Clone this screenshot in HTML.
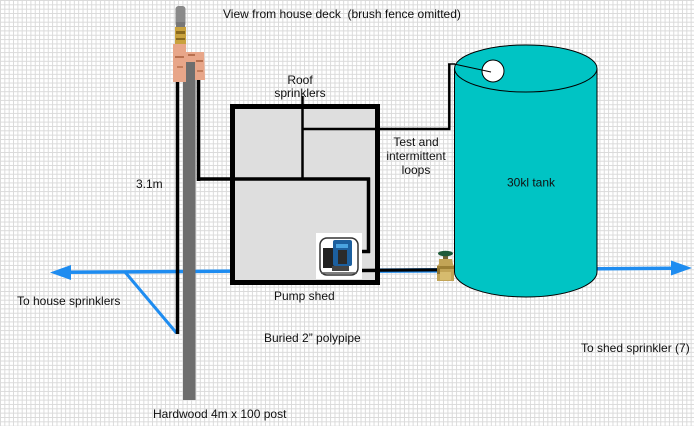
<!DOCTYPE html>
<html>
<head>
<meta charset="utf-8">
<style>
  html,body{margin:0;padding:0;}
  body{width:694px;height:426px;overflow:hidden;background-color:#fff;
    background-image:linear-gradient(#dadada 1px, transparent 1px),linear-gradient(90deg,#dadada 1px, transparent 1px);
    background-size:4.35px 4.35px;}
  svg{position:absolute;left:0;top:0;}
  text{font-family:"Liberation Sans",Arial,sans-serif;font-size:12px;fill:#111;}
</style>
</head>
<body>
<svg width="694" height="426" viewBox="0 0 694 426" xmlns="http://www.w3.org/2000/svg">
  <!-- blue main line -->
  <line x1="66" y1="272.3" x2="676" y2="268.2" stroke="#1e8cf0" stroke-width="3.5"/>
  <polygon points="50,272.5 71,265 71,280" fill="#1e8cf0"/>
  <polygon points="692,268 671,260.5 671,275.5" fill="#1e8cf0"/>
  <!-- diagonal branch -->
  <line x1="125" y1="272" x2="176.5" y2="333" stroke="#1e8cf0" stroke-width="3"/>

  <!-- post -->
  <rect x="183" y="60" width="12.5" height="340" fill="#6e6e6e"/>
  <!-- pipes along post -->
  <line x1="177.5" y1="80" x2="177.5" y2="334" stroke="#000" stroke-width="3.5"/>
  <line x1="198.5" y1="76" x2="198.5" y2="181" stroke="#000" stroke-width="3.5"/>

  <!-- top fittings -->
  <rect x="175.5" y="6" width="10" height="21" rx="3" fill="#8a8a8a"/>
  <rect x="176" y="22" width="9" height="5" fill="#777"/>
  <path d="M175,27 L186,27 L186,45 L175,45 Z" fill="#c9a23e"/>
  <rect x="176" y="31" width="9" height="3" fill="#8a6a1e"/>
  <rect x="176" y="38" width="9" height="2" fill="#8a6a1e"/>
  <path d="M173,44 L186,44 L186,52 L204,52 L205,80 L195,80 L195,62 L186,62 L186,82 L173,82 Z" fill="#e8a689"/>
  <rect x="175" y="56" width="9" height="2" fill="#b8704f"/>
  <rect x="177" y="66" width="6" height="2" fill="#c57e5c"/>
  <rect x="196" y="60" width="7" height="2" fill="#b8704f"/>
  <rect x="197" y="70" width="6" height="2" fill="#c57e5c"/>
  <rect x="188" y="54" width="7" height="2" fill="#b8704f"/>

  <!-- shed -->
  <rect x="232.5" y="106.5" width="145" height="176" fill="#dedede" stroke="#000" stroke-width="5"/>
  <!-- pipes inside shed -->
  <line x1="198" y1="179" x2="370" y2="179" stroke="#000" stroke-width="3.5"/>
  <line x1="368.5" y1="177.5" x2="368.5" y2="253" stroke="#000" stroke-width="3.5"/>
  <line x1="357" y1="251.5" x2="370" y2="251.5" stroke="#000" stroke-width="3.5"/>
  <line x1="302.5" y1="96" x2="302.5" y2="180" stroke="#000" stroke-width="2.5"/>
  <line x1="302" y1="129" x2="450.5" y2="129" stroke="#000" stroke-width="2.5"/>
  <line x1="449.3" y1="130" x2="449.3" y2="64" stroke="#000" stroke-width="2.5"/>
  <line x1="448" y1="64" x2="455" y2="64" stroke="#000" stroke-width="1.5"/>

  <!-- pump to valve -->
  <line x1="360" y1="270.5" x2="442" y2="270" stroke="#000" stroke-width="3.5"/>
  <line x1="380" y1="272.3" x2="440" y2="272" stroke="#1e8cf0" stroke-width="1.2"/>

  <!-- pump image -->
  <rect x="316" y="233" width="46" height="46" fill="#fff"/>
  <rect x="320" y="238" width="38" height="37" rx="7" fill="none" stroke="#333" stroke-width="1.5"/>
  <rect x="323" y="248" width="13" height="20" fill="#222"/>
  <rect x="333" y="240" width="19" height="26" rx="2" fill="#1c5f9e"/>
  <rect x="336" y="244" width="12" height="4" fill="#4aa3e0"/>
  <rect x="338" y="250" width="9" height="14" fill="#2b2b2b"/>
  <rect x="332" y="266" width="17" height="5" fill="#444"/>
  <line x1="321" y1="273" x2="357" y2="273" stroke="#555" stroke-width="1.5"/>

  <!-- tank -->
  <path d="M454.5,68.5 L454.5,272 A71.25,25 0 0 0 597,272 L597,68.5 Z" fill="#00c4c4" stroke="#000" stroke-width="1"/>
  <ellipse cx="525.75" cy="68.5" rx="71.25" ry="23.5" fill="#00c4c4" stroke="#000" stroke-width="1"/>
  <circle cx="493" cy="71" r="11" fill="#fff" stroke="#000" stroke-width="1"/>
  <line x1="454" y1="64" x2="491" y2="72" stroke="#000" stroke-width="1"/>

  <!-- valve -->
  <rect x="443" y="254" width="5" height="6" fill="#6f6234"/>
  <ellipse cx="445.5" cy="253.5" rx="7.5" ry="2.8" fill="#1f5a3a"/>
  <path d="M439,259 L452,259 L453,264 L454,266 L454,281 L437,281 L437,266 L439,264 Z" fill="#c2a456"/>
  <rect x="437" y="266" width="17" height="3" fill="#9c7f34"/>
  <rect x="440" y="272" width="11" height="8" fill="#d6bb6e"/>
  <rect x="437" y="268" width="3" height="6" fill="#8e7430"/>

  <!-- labels -->
  <text x="223" y="18" style="white-space:pre">View from house deck  (brush fence omitted)</text>
  <text x="300" y="84" text-anchor="middle">Roof</text>
  <text x="300" y="97" text-anchor="middle">sprinklers</text>
  <text x="416" y="146" text-anchor="middle">Test and</text>
  <text x="416" y="160" text-anchor="middle">intermittent</text>
  <text x="416" y="174" text-anchor="middle">loops</text>
  <text x="136" y="188">3.1m</text>
  <text x="531" y="186.5" text-anchor="middle">30kl tank</text>
  <text x="274" y="300">Pump shed</text>
  <text x="264" y="342">Buried 2” polypipe</text>
  <text x="17" y="305">To house sprinklers</text>
  <text x="581" y="352">To shed sprinkler (7)</text>
  <text x="153" y="418">Hardwood 4m x 100 post</text>
</svg>
</body>
</html>
